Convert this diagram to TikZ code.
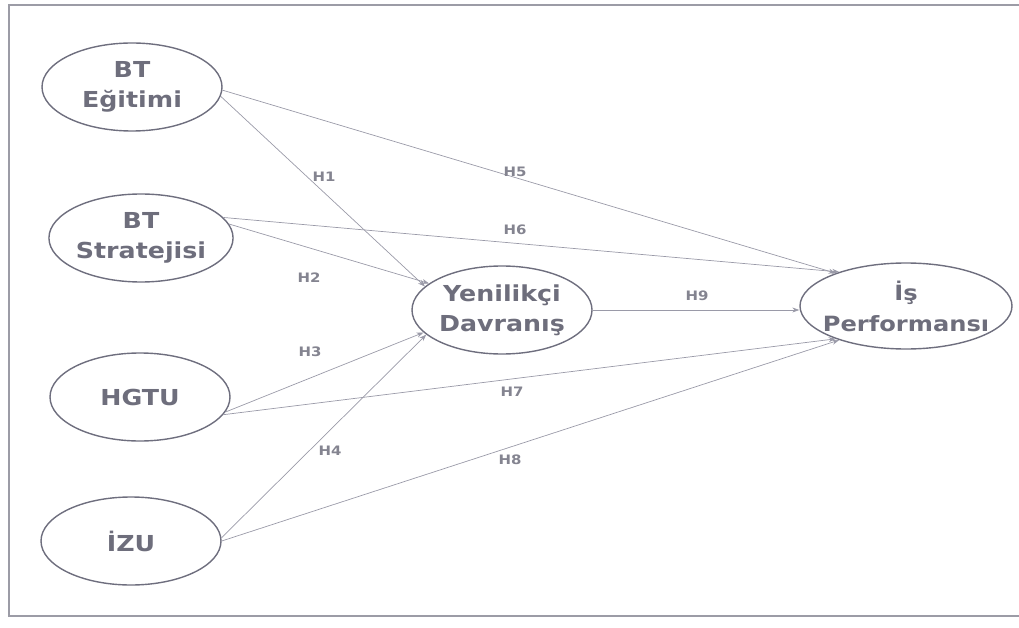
\documentclass[tikz,border=0pt]{standalone}
\usepackage{fontspec}
\setmainfont[FakeStretch=1.15]{DejaVu Sans}
\usetikzlibrary{shapes.geometric,arrows.meta}
\definecolor{ellcol}{HTML}{6E6E7E}
\definecolor{txtcol}{HTML}{6E6E7C}
\definecolor{linecol}{HTML}{9A9AA8}
\definecolor{framecol}{HTML}{9C9CA6}
\tikzset{
  construct/.style={ellipse, draw=ellcol, line width=1.4pt, inner sep=0pt,
    minimum width=180pt, minimum height=88pt, align=center, text=txtcol,
    font=\fontsize{22}{30}\selectfont\bfseries},
  path/.style={draw=linecol, line width=0.7pt, -{Stealth[length=7pt,width=5pt]}},
  hlabel/.style={text=txtcol!85, font=\fontsize{13}{15}\selectfont\bfseries, inner sep=1pt}
}
\begin{document}
\begin{tikzpicture}[x=1pt,y=-1pt]
\useasboundingbox (0,0) rectangle (1019,628);
\draw[framecol, line width=1.4pt] (1019,5) -- (9,5) -- (9,616) -- (1019,616);

\node[construct] (bte) at (132,87) {BT\\Eğitimi};
\node[construct] (bts) at (141,238) {BT\\Stratejisi};
\node[construct] (hgtu) at (140,397) {HGTU};
\node[construct] (izu) at (131,541) {İZU};
\node[construct] (yd) at (502,310) {Yenilikçi\\Davranış};
\node[construct, minimum width=212pt, minimum height=86pt, font=\fontsize{21}{31}\selectfont\bfseries] (ip) at (906,306) {İş\\\makebox[0pt]{Performansı}};

\draw[path] (bte.-6) -- (yd.163);
\draw[path] (bts.9) -- (yd.160);
\draw[path] (hgtu.-10) -- (yd.196);
\draw[path] (izu.2) -- (yd.198);
\draw[path] (bte.-2) -- (ip.155);
\draw[path] (bts.14) -- (ip.153);
\draw[path] (hgtu.-12) -- (ip.205);
\draw[path] (izu.0) -- (ip.207);
\draw[path] (yd.east) -- (ip.west |- yd.east);

\node[hlabel] (h1) at (324,177) {H1};
\node[hlabel] (h2) at (309,278) {H2};
\node[hlabel] (h3) at (310,352) {H3};
\node[hlabel] (h4) at (330,451) {H4};
\node[hlabel] (h5) at (515,172) {H5};
\node[hlabel] (h6) at (515,230) {H6};
\node[hlabel] (h7) at (512,392) {H7};
\node[hlabel] (h8) at (510,460) {H8};
\node[hlabel] (h9) at (697,296) {H9};
\end{tikzpicture}
\end{document}
